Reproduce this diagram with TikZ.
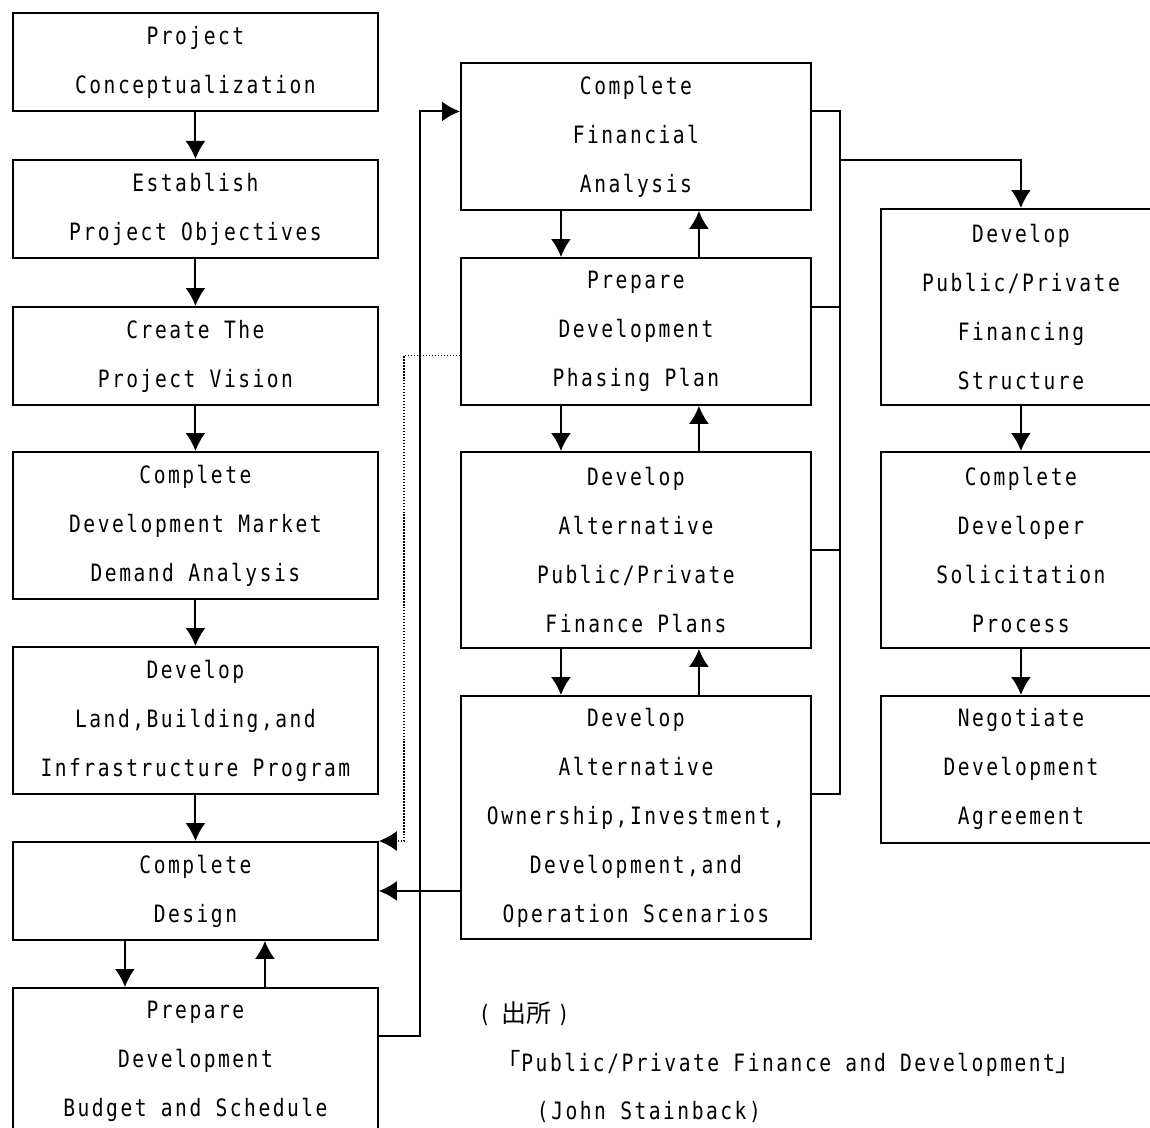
\documentclass[tikz,border=0pt]{standalone}
\usepackage{fontspec}
\usetikzlibrary{arrows.meta,calc}
\newfontfamily\boxfont{DejaVu Sans Mono}[FakeStretch=0.82,LetterSpace=10.5]
\newfontfamily\cjkfont{Noto Sans CJK JP}

\begin{document}
\begin{tikzpicture}[x=0.02cm,y=-0.02cm,>={Latex[length=0.36cm,width=0.4cm]},line width=1.1pt]
  \tikzset{
    box/.style={draw,rectangle,anchor=north west,inner sep=0pt,align=center,
      font=\boxfont\fontsize{13.6}{27.9}\selectfont},
    leftbox/.style={box,minimum width=7.3cm},
    midbox/.style={box,minimum width=7cm},
    rightbox/.style={box,minimum width=5.6cm},
    two/.style={minimum height=1.96cm}, three/.style={minimum height=2.94cm},
    four/.style={minimum height=3.92cm}, five/.style={minimum height=4.86cm},
    hint/.style={line width=0.8pt,dash pattern=on 0.8pt off 0.9pt},
    src/.style={anchor=base west,inner sep=0pt,font=\boxfont\fontsize{13.6}{14}\selectfont},
  }
  \useasboundingbox (0,0) rectangle (1150,1128);

  % left column
  \node[leftbox,two] (b1) at (12,12) {Project\\Conceptualization};
  \node[leftbox,two] (b2) at (12,159) {Establish\\Project Objectives};
  \node[leftbox,two] (b3) at (12,306) {Create The\\Project Vision};
  \node[leftbox,three] (b4) at (12,451) {Complete\\Development Market\\Demand Analysis};
  \node[leftbox,three] (b5) at (12,646) {Develop\\Land,Building,and\\Infrastructure Program};
  \node[leftbox,two] (b6) at (12,841) {Complete\\Design};
  \node[leftbox,three] (b7) at (12,987) {Prepare\\Development\\Budget and Schedule};

  % middle column
  \node[midbox,three] (m1) at (460,62) {Complete\\Financial\\Analysis};
  \node[midbox,three] (m2) at (460,257) {Prepare\\Development\\Phasing Plan};
  \node[midbox,four] (m3) at (460,451) {Develop\\Alternative\\Public/Private\\Finance Plans};
  \node[midbox,five] (m4) at (460,695) {Develop\\Alternative\\Ownership,Investment,\\Development,and\\Operation Scenarios};

  % right column
  \node[rightbox,four] (r1) at (880,208) {Develop\\Public/Private\\Financing\\Structure};
  \node[rightbox,four] (r2) at (880,451) {Complete\\Developer\\Solicitation\\Process};
  \node[rightbox,three] (r3) at (880,695) {Negotiate\\Development\\Agreement};

  \draw[->] (b1) -- (b2);
  \draw[->] (b2) -- (b3);
  \draw[->] (b3) -- (b4);
  \draw[->] (b4) -- (b5);
  \draw[->] (b5) -- (b6);
  \draw[->] ([xshift=-1.41cm]b6.south) -- ([xshift=-1.41cm]b7.north);
  \draw[->] ([xshift=1.39cm]b7.north) -- ([xshift=1.39cm]b6.south);
  \draw[->] ([yshift=-0.98cm]b7.north east) -- ++(41,0) |- ([yshift=0.5cm]m1.west);

  \draw[->] ([xshift=-1.5cm]m1.south) -- ([xshift=-1.5cm]m2.north);
  \draw[->] ([xshift=1.26cm]m2.north) -- ([xshift=1.26cm]m1.south);
  \draw[->] ([xshift=-1.5cm]m2.south) -- ([xshift=-1.5cm]m3.north);
  \draw[->] ([xshift=1.26cm]m3.north) -- ([xshift=1.26cm]m2.south);
  \draw[->] ([xshift=-1.5cm]m3.south) -- ([xshift=-1.5cm]m4.north);
  \draw[->] ([xshift=1.26cm]m4.north) -- ([xshift=1.26cm]m3.south);
  \draw[->] (m4.west |- b6.center) -- (b6.east);
  \draw[hint,->] ([yshift=-0.48cm]m2.west) -- ++(-56,0) |- (b6.north east);

  % bus on the right of the middle column
  \coordinate (busend) at ([xshift=0.56cm,yshift=0.47cm]m4.east);
  \coordinate (busout) at ([xshift=0.56cm,yshift=-0.48cm]m1.east);
  \draw ([yshift=0.5cm]m1.east) -| (busend) -- ([yshift=0.47cm]m4.east);
  \draw ([yshift=0.48cm]m2.east) -- ++(28,0);
  \draw (m3.east) -- ++(28,0);
  \draw[->] (busout) -| (r1.north);

  \draw[->] (r1) -- (r2);
  \draw[->] (r2) -- (r3);

  % source
  \node[src] (src1) at (478,1022) {(\hspace{0.22cm}{\cjkfont\fontsize{14.2}{14}\selectfont 出所}\hspace{0.12cm})};
  \node[src] (src2) at (508,1071) {{\cjkfont\fontsize{14.2}{14}\selectfont ｢}Public/Private Finance and Development{\cjkfont\fontsize{14.2}{14}\selectfont ｣}};
  \node[src] (src3) at (536,1119) {(John Stainback)};
\end{tikzpicture}
\end{document}
